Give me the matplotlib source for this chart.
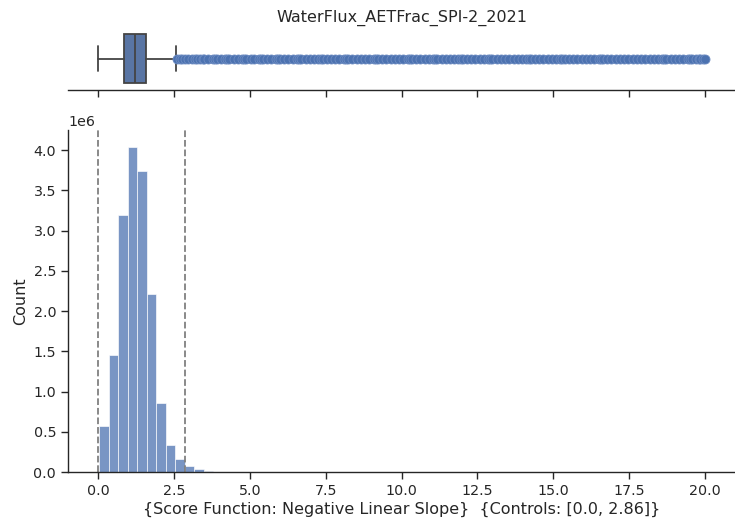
import numpy as np
import matplotlib
matplotlib.use('Agg')
import matplotlib.pyplot as plt
import seaborn as sns

sns.set_theme(style='ticks')
plt.rcParams['font.family'] = ['DejaVu Sans']
plt.rcParams['axes.linewidth'] = 1.0
plt.rcParams['xtick.major.width'] = 1.0
plt.rcParams['ytick.major.width'] = 1.0
plt.rcParams['xtick.major.size'] = 5
plt.rcParams['ytick.major.size'] = 5
plt.rcParams['xtick.labelsize'] = 10.3
plt.rcParams['ytick.labelsize'] = 10.3
plt.rcParams['axes.labelsize'] = 11.5
plt.rcParams['axes.titlesize'] = 11.5

title = 'WaterFlux_AETFrac_SPI-2_2021'
xlabel = '{Score Function: Negative Linear Slope}  {Controls: [0.0, 2.86]}'
controls = [0.0, 2.86]

# histogram bins (left edge, count)
bin_width = 0.313
bin_lefts = [0.03, 0.34, 0.66, 0.97, 1.28, 1.60, 1.91, 2.22, 2.53, 2.85,
             3.16, 3.47, 3.79, 4.10]
counts = [0.57e6, 1.46e6, 3.19e6, 4.04e6, 3.74e6, 2.21e6, 0.86e6, 0.34e6,
          0.158e6, 0.078e6, 0.037e6, 0.017e6, 0.006e6, 0.002e6]

# box summary
whislo, q1, med, q3, whishi = 0.0, 0.855, 1.2, 1.56, 2.56
fliers = [2.6, 2.68, 2.77, 2.85, 2.97, 3.1, 3.18, 3.24, 3.36, 3.45, 3.5, 3.63,
          3.77, 3.84, 3.9, 4.05, 4.18, 4.25, 4.31, 4.46, 4.6, 4.73, 4.8, 4.88,
          5.02, 5.15, 5.3, 5.38, 5.44, 5.57, 5.71, 5.86, 5.93, 6.0, 6.13, 6.27,
          6.42, 6.55, 6.62, 6.69, 6.84, 6.97, 7.11, 7.26, 7.33, 7.4, 7.53, 7.68,
          7.82, 7.95, 8.1, 8.17, 8.24, 8.37, 8.52, 8.66, 8.8, 8.94, 9.08, 9.15,
          9.21, 9.36, 9.5, 9.64, 9.78, 9.92, 10.05, 10.2, 10.27, 10.34, 10.48,
          10.62, 10.76, 10.9, 11.04, 11.11, 11.18, 11.32, 11.46, 11.6, 11.74,
          11.88, 11.95, 12.02, 12.16, 12.3, 12.44, 12.58, 12.72, 12.86, 12.93,
          13.0, 13.14, 13.28, 13.42, 13.56, 13.7, 13.84, 13.98, 14.12, 14.19,
          14.26, 14.4, 14.54, 14.68, 14.82, 14.96, 15.1, 15.24, 15.31, 15.38,
          15.52, 15.66, 15.8, 15.94, 16.08, 16.22, 16.36, 16.5, 16.57, 16.64,
          16.78, 16.92, 17.06, 17.2, 17.34, 17.48, 17.62, 17.76, 17.9, 18.04,
          18.18, 18.32, 18.46, 18.6, 18.67, 18.74, 18.88, 19.02, 19.16, 19.3,
          19.44, 19.51, 19.58, 19.72, 19.8, 19.86, 19.93, 20.0]

blue = '#4c72b0'
box_face = sns.desaturate(blue, 0.75)
line_grey = '#444444'

fig = plt.figure(figsize=(7.35, 5.29), dpi=100)
ax = fig.add_axes([68/735, 1 - 472/529, 667/735, 342/529])
ax_box = fig.add_axes([68/735, 1 - 89.5/529, 667/735, 62/529], sharex=ax)

# boxplot on top
stats = [dict(whislo=whislo, q1=q1, med=med, q3=q3, whishi=whishi, fliers=fliers)]
ax_box.bxp(stats, positions=[0], widths=0.8, orientation='horizontal',
           patch_artist=True, capwidths=0.4,
           boxprops=dict(facecolor=box_face, edgecolor=line_grey, linewidth=1.3),
           medianprops=dict(color=line_grey, linewidth=1.3),
           whiskerprops=dict(color=line_grey, linewidth=1.3),
           capprops=dict(color=line_grey, linewidth=1.3),
           flierprops=dict(marker='o', markersize=6.5, markerfacecolor=blue,
                           markeredgecolor='#6d8cc2', markeredgewidth=0.6))
ax_box.set_ylim(-0.5, 0.5)
ax_box.set_yticks([])
for s in ['top', 'right', 'left']:
    ax_box.spines[s].set_visible(False)
ax_box.tick_params(axis='x', labelbottom=False)
ax_box.set_title(title, pad=4)

# histogram
ax.bar(bin_lefts, counts, width=bin_width, align='edge', color=blue,
       alpha=0.75, edgecolor='white', linewidth=0.6)
for c in controls:
    ax.axvline(c, color='grey', linestyle='--', linewidth=1.3)
ax.set_xlim(-1.0, 21.0)
ax.set_ylim(0, 4.25e6)
ax.set_ylabel('Count')
ax.set_xlabel(xlabel, labelpad=3)
ax.spines['top'].set_visible(False)
ax.spines['right'].set_visible(False)

fig.savefig('out.png', dpi=100)
